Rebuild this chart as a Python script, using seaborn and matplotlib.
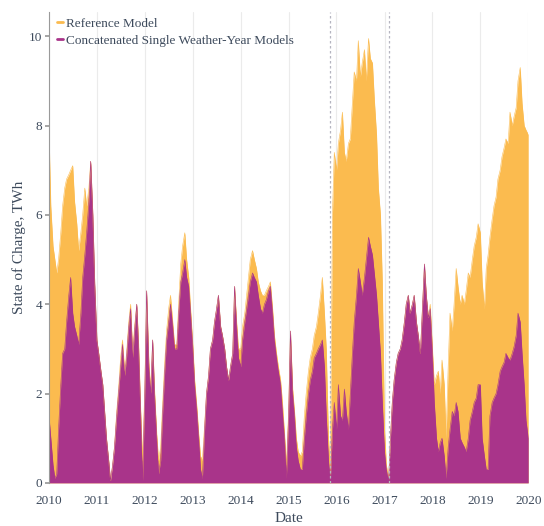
import pandas as pd
import matplotlib.pyplot as plt
import matplotlib.dates as mdates
from matplotlib.lines import Line2D
import seaborn as sns

# semi-monthly samples, 2010-01-01 .. 2020-01-01
dates = pd.date_range("2010-01-01", periods=241, freq="SMS")

reference = [
    7.9, 6.2, 5.3, 5.0, 4.7, 5.0, 5.6, 6.2, 6.6, 6.8, 6.9, 7.0, 7.1, 6.3, 5.8, 5.2, 5.6, 6.0, 6.6, 6.2, 6.6, 7.2, 6.0, 4.5,
    3.2, 2.9, 2.5, 2.2, 1.6, 1.0, 0.5, 0.05, 0.4, 0.8, 1.6, 2.1, 2.8, 3.2, 2.5, 2.9, 3.6, 4.0, 2.9, 3.5, 4.0, 3.1, 1.6, 0.5,
    2.1, 4.3, 2.7, 2.1, 3.2, 2.1, 1.1, 0.5, 0.8, 1.7, 2.7, 3.4, 3.9, 4.2, 3.6, 3.1, 3.1, 4.0, 4.9, 5.3, 5.6, 5.0, 4.6, 3.9,
    3.1, 2.3, 1.7, 1.1, 0.6, 0.5, 1.3, 2.0, 2.4, 3.0, 3.2, 3.6, 3.9, 4.2, 3.5, 3.3, 3.0, 2.6, 2.3, 2.6, 2.9, 4.4, 3.6, 3.0,
    3.0, 3.5, 3.8, 4.2, 4.6, 5.0, 5.2, 5.0, 4.8, 4.5, 4.3, 4.2, 4.2, 4.3, 4.4, 4.5, 3.9, 3.3, 2.9, 2.6, 2.3, 1.8, 1.1, 0.4,
    1.6, 3.4, 2.1, 1.6, 1.0, 0.7, 0.6, 0.7, 1.5, 2.0, 2.5, 2.8, 3.0, 3.3, 3.5, 3.8, 4.2, 4.6, 3.8, 3.0, 1.0, 0.3, 6.0, 7.4,
    7.0, 7.6, 7.9, 8.3, 7.4, 7.2, 7.6, 7.7, 8.5, 9.2, 9.0, 9.9, 9.1, 9.4, 9.7, 9.0, 9.95, 9.5, 9.4, 8.6, 7.8, 6.6, 6.0, 4.5,
    1.2, 0.4, 0.1, 1.0, 1.8, 2.3, 2.7, 2.9, 3.0, 3.2, 3.6, 4.0, 4.2, 3.8, 4.0, 4.2, 3.6, 3.3, 2.9, 3.8, 4.9, 4.2, 3.7, 4.0,
    3.0, 2.2, 2.4, 2.5, 2.0, 2.75, 2.2, 1.0, 2.6, 3.8, 3.4, 4.0, 4.8, 4.4, 4.0, 4.2, 4.0, 4.3, 4.7, 4.6, 5.0, 5.3, 5.5, 5.8,
    5.6, 4.5, 3.9, 4.8, 5.1, 5.5, 5.9, 6.2, 6.4, 6.8, 7.0, 7.3, 7.5, 7.7, 7.6, 8.3, 8.0, 8.2, 8.4, 9.0, 9.3, 8.5, 8.0, 7.9,
    7.8,
]

concatenated = [
    1.5, 1.0, 0.4, 0.1, 0.2, 1.2, 2.2, 2.9, 3.0, 3.6, 4.2, 4.6, 3.8, 3.5, 3.3, 3.1, 3.8, 4.6, 5.1, 5.6, 6.3, 7.2, 6.0, 4.5,
    3.2, 2.9, 2.5, 2.2, 1.6, 1.0, 0.5, 0.05, 0.4, 0.8, 1.5, 2.0, 2.6, 3.1, 2.4, 2.8, 3.5, 3.9, 2.8, 3.4, 4.0, 3.0, 1.5, 0.05,
    2.0, 4.3, 2.6, 2.0, 3.2, 2.0, 1.0, 0.2, 0.5, 1.5, 2.5, 3.2, 3.6, 4.0, 3.5, 3.0, 3.0, 3.8, 4.5, 4.7, 5.0, 4.6, 4.4, 3.8,
    3.0, 2.2, 1.6, 1.0, 0.3, 0.1, 1.2, 2.0, 2.4, 3.0, 3.2, 3.6, 3.9, 4.2, 3.5, 3.3, 3.0, 2.6, 2.3, 2.6, 2.9, 4.4, 3.5, 2.8,
    2.6, 3.2, 3.6, 3.9, 4.2, 4.5, 4.7, 4.6, 4.5, 4.2, 3.9, 3.8, 4.0, 4.1, 4.3, 4.4, 3.8, 3.2, 2.8, 2.5, 2.2, 1.6, 1.0, 0.1,
    1.5, 3.4, 2.0, 1.5, 0.8, 0.5, 0.3, 0.3, 1.0, 1.5, 2.0, 2.3, 2.5, 2.8, 2.9, 3.0, 3.1, 3.2, 2.6, 1.5, 0.5, 0.05, 1.2, 1.8,
    1.2, 2.2, 1.5, 1.4, 2.1, 1.6, 1.2, 2.0, 2.9, 3.6, 4.2, 4.8, 4.5, 4.2, 4.6, 5.0, 5.5, 5.3, 5.1, 4.7, 4.2, 3.6, 2.9, 1.8,
    0.7, 0.3, 0.05, 1.0, 1.8, 2.3, 2.7, 2.9, 3.0, 3.2, 3.6, 4.0, 4.2, 3.8, 4.0, 4.2, 3.6, 3.3, 2.9, 3.8, 4.9, 4.2, 3.7, 3.9,
    2.9, 1.8, 1.0, 0.7, 0.9, 1.0, 0.6, 0.1, 0.8, 1.2, 1.6, 1.5, 1.8, 1.6, 1.0, 0.9, 0.8, 0.7, 1.0, 1.4, 1.6, 1.8, 1.9, 2.2,
    2.2, 1.0, 0.6, 0.3, 0.3, 1.5, 1.8, 1.9, 2.0, 2.2, 2.5, 2.6, 2.7, 2.9, 2.8, 2.75, 2.9, 3.05, 3.3, 3.8, 3.6, 2.9, 2.2, 1.4,
    1.0,
]

series_names = ["Reference Model", "Concatenated Single Weather-Year Models"]
series_colors = ["#FBBB4F", "#A9348A"]
marker_dates = ["2015-11-10", "2017-02-06"]

df = pd.DataFrame({"Date": dates, series_names[0]: reference, series_names[1]: concatenated})

sns.set_theme(style="white")
plt.rcParams["font.family"] = ["Liberation Serif", "DejaVu Serif"]
text_color = "#3d4a5c"

fig = plt.figure(figsize=(5.44, 5.26), dpi=100)
ax = fig.add_axes([0.090, 0.082, 0.881, 0.895])

for name, color in zip(series_names, series_colors):
    sns.lineplot(data=df, x="Date", y=name, color=color, lw=0.4, ax=ax)
    ax.fill_between(df["Date"], 0, df[name], color=color, lw=0)

ax.set_xlim(pd.Timestamp("2010-01-01"), pd.Timestamp("2020-01-01"))
ax.set_ylim(0, 10.54)
ax.xaxis.set_major_locator(mdates.YearLocator())
ax.xaxis.set_major_formatter(mdates.DateFormatter("%Y"))
ax.set_yticks([0, 2, 4, 6, 8, 10])

ax.grid(axis="x", color="#ebebeb", lw=0.8)
ax.grid(axis="y", visible=False)
ax.set_axisbelow(True)
for d in marker_dates:
    ax.axvline(pd.Timestamp(d), color="#b5b5c0", lw=0.9, ls=(0, (2, 2)), zorder=3)

for s in ["top", "right", "bottom"]:
    ax.spines[s].set_visible(False)
ax.spines["left"].set_color("#9a9a9a")
ax.spines["left"].set_linewidth(0.8)
ax.tick_params(axis="y", left=True, length=3, color="#9a9a9a", labelsize=9.5, labelcolor=text_color, pad=2)
ax.tick_params(axis="x", bottom=False, labelsize=9.5, labelcolor=text_color, pad=3)

ax.set_xlabel("Date", fontsize=11, color=text_color, labelpad=3)
ax.set_ylabel("State of Charge, TWh", fontsize=11, color=text_color, labelpad=2)

handles = [Line2D([0], [0], color=c, lw=2) for c in series_colors]
ax.legend(handles, series_names, loc="upper left", bbox_to_anchor=(0.0, 1.005), frameon=False,
          fontsize=9.5, labelcolor=text_color, handlelength=0.5, handletextpad=0.2,
          borderaxespad=0.2, labelspacing=0.35)

fig.savefig("out.png", dpi=100)
